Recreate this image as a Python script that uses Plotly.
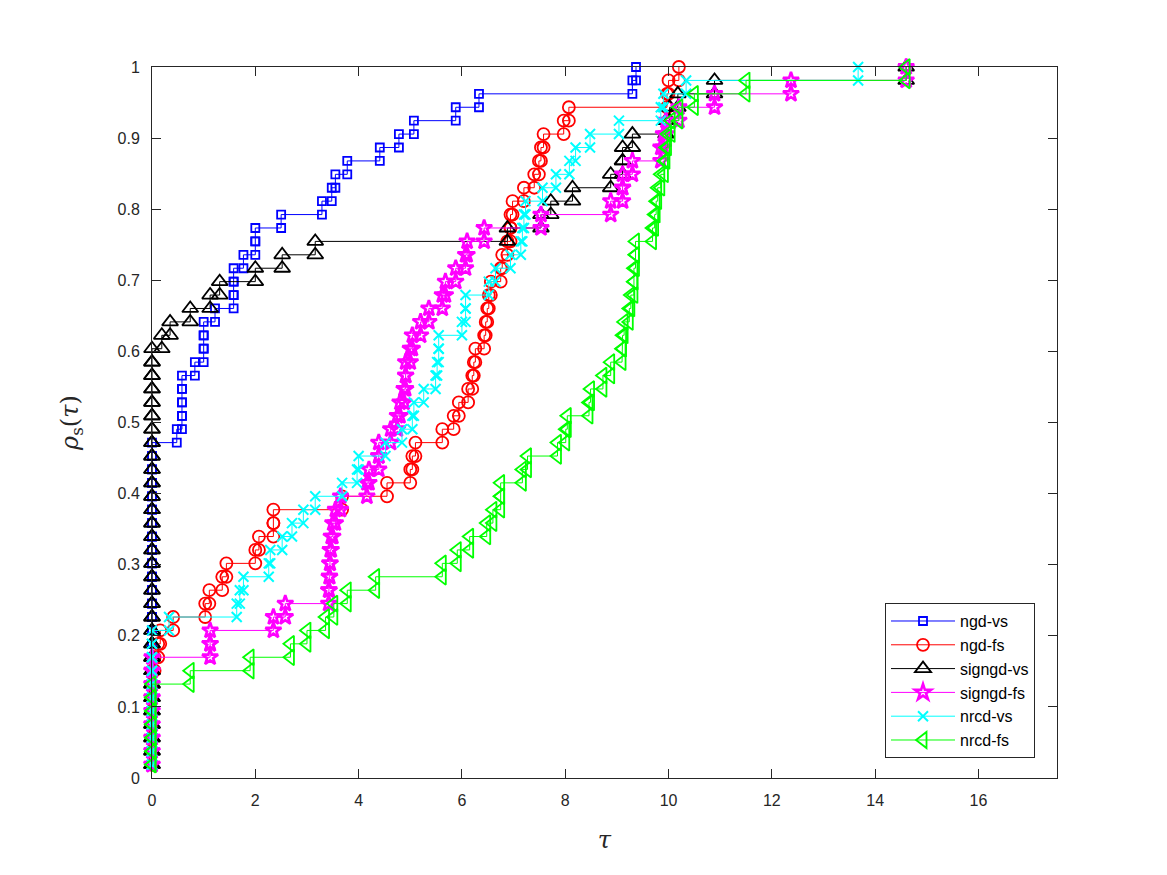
import numpy as np
import plotly.graph_objects as go

# Performance-profile data: sorted log2 performance ratios per solver (53 problems)
solvers = ["ngd-vs", "ngd-fs", "signgd-vs", "signgd-fs", "nrcd-vs", "nrcd-fs"]

tau_ngd_vs = [0, 0, 0, 0, 0, 0, 0, 0, 0, 0, 0, 0, 0, 0, 0, 0, 0, 0, 0, 0, 0, 0, 0, 0, 0,
              0.48, 0.58, 0.58, 0.58, 0.58, 0.83, 1.0, 1.0, 1.0, 1.22, 1.58, 1.58, 1.58, 1.77,
              2.0, 2.0, 2.50, 3.29, 3.48, 3.55, 3.78, 4.41, 4.78, 5.07, 5.88, 6.33, 9.30, 9.37]

tau_ngd_fs = [0, 0, 0, 0, 0, 0, 0, 0, 0.05, 0.12, 0.16, 0.41, 1.03, 1.11, 1.36, 1.44, 2.0,
              2.07, 2.35, 2.35, 3.68, 4.55, 5.0, 5.04, 5.1, 5.62, 5.84, 5.94, 6.12, 6.2, 6.23,
              6.26, 6.43, 6.46, 6.49, 6.52, 6.56, 6.75, 6.78, 6.88, 6.94, 6.94, 6.98, 7.2, 7.4,
              7.49, 7.53, 7.58, 7.97, 8.07, 9.97, 10.0, 10.2]

tau_signgd_vs = [0, 0, 0, 0, 0, 0, 0, 0, 0, 0, 0, 0, 0, 0, 0, 0, 0, 0, 0, 0, 0, 0, 0, 0, 0,
                 0, 0, 0, 0, 0, 0, 0, 0.19, 0.35, 0.74, 1.125, 1.31, 2.0, 2.52, 3.16, 6.88,
                 7.53, 7.72, 8.14, 8.88, 9.11, 9.11, 9.30, 9.95, 10.02, 10.18, 10.89, 14.6]

tau_signgd_fs = [0, 0, 0, 0, 0, 0, 0, 0, 0, 1.125, 1.125, 2.35, 2.58, 3.42, 3.43, 3.44, 3.45,
                 3.47, 3.5, 3.55, 3.65, 4.16, 4.2, 4.39, 4.39, 4.62, 4.75, 4.8, 4.88, 4.91, 4.91,
                 5.0, 5.04, 5.2, 5.36, 5.62, 5.68, 5.88, 6.07, 6.1, 6.43, 7.53, 8.88, 9.11, 9.11,
                 9.3, 9.85, 9.9, 9.95, 10.2, 10.89, 12.37, 14.6]

tau_nrcd_vs = [0, 0, 0, 0, 0, 0, 0, 0, 0, 0, 0, 0.33, 1.64, 1.70, 1.77, 2.26, 2.29, 2.52, 2.71,
               2.93, 3.16, 3.68, 3.97, 4.0, 4.52, 4.84, 5.04, 5.07, 5.26, 5.49, 5.52, 5.55, 5.55,
               6.0, 6.07, 6.07, 6.52, 6.65, 6.94, 7.14, 7.17, 7.2, 7.23, 7.56, 7.82, 8.08, 8.2,
               8.48, 9.04, 9.85, 9.9, 10.34, 13.67]

tau_nrcd_fs = [0, 0, 0, 0, 0, 0, 0, 0.74, 1.90, 2.68, 3.0, 3.36, 3.52, 3.78, 4.33, 5.62, 5.91,
               6.15, 6.48, 6.6, 6.75, 6.75, 7.17, 7.27, 7.85, 8.01, 8.04, 8.46, 8.49, 8.73, 8.88,
               9.1, 9.11, 9.14, 9.24, 9.27, 9.33, 9.33, 9.36, 9.36, 9.69, 9.73, 9.76, 9.79, 9.85,
               9.92, 9.95, 9.98, 10.05, 10.2, 10.5, 11.5, 14.6]

x_ticks = [0, 2, 4, 6, 8, 10, 12, 14, 16]
y_ticks = [0, 0.1, 0.2, 0.3, 0.4, 0.5, 0.6, 0.7, 0.8, 0.9, 1]
y_tick_labels = ["0", "0.1", "0.2", "0.3", "0.4", "0.5", "0.6", "0.7", "0.8", "0.9", "1"]

series = [tau_ngd_vs, tau_ngd_fs, tau_signgd_vs, tau_signgd_fs, tau_nrcd_vs, tau_nrcd_fs]
colors = ["#0000FF", "#FF0000", "#000000", "#FF00FF", "#00FFFF", "#00FF00"]
symbols = ["square-open", "circle-open", "triangle-up-open", "star-open", "x-thin-open", "triangle-left-open"]
sizes = [8, 12, 14, 12, 10, 14]
mlw = [1.8, 1.8, 1.8, 2.6, 2.0, 1.8]


def stairs(x, y):
    """MATLAB-style stairs vertices: (x1,y1),(x2,y1),(x2,y2),...,(xn,yn)."""
    xs, ys = [x[0]], [y[0]]
    for i in range(1, len(x)):
        xs += [x[i], x[i]]
        ys += [y[i - 1], y[i]]
    return xs, ys


fig = go.Figure()
for name, tau, col, sym, sz, lw in zip(solvers, series, colors, symbols, sizes, mlw):
    r = np.sort(np.array(tau, dtype=float))
    n = len(r)
    frac = np.arange(1, n + 1) / n
    xs, ys = stairs(list(r), list(frac))
    fig.add_trace(go.Scatter(
        x=xs, y=ys, mode="lines+markers", name=name,
        line=dict(color=col, width=1),
        marker=dict(symbol=sym, size=sz, color=col, line=dict(color=col, width=lw)),
        cliponaxis=False, legendgroup=name,
    ))

axis_common = dict(
    showline=True, linecolor="#262626", linewidth=1, mirror="ticks",
    ticks="inside", ticklen=9, tickwidth=1, tickcolor="#262626",
    showgrid=False, zeroline=False, ticklabelstandoff=8,
    tickfont=dict(family="Liberation Sans, Arial, sans-serif", size=16, color="#262626"),
)

fig.update_layout(
    width=1167, height=875,
    margin=dict(l=152, r=110, t=67, b=97),
    plot_bgcolor="white", paper_bgcolor="white",
    font=dict(family="Liberation Sans, Arial, sans-serif", size=16, color="#262626"),
    xaxis=dict(range=[0, 17.52], tickvals=x_ticks, ticktext=[str(v) for v in x_ticks],
               title=dict(text="<i>τ</i>", font=dict(size=24, family="DejaVu Serif, serif", color="#262626"), standoff=22),
               **axis_common),
    yaxis=dict(range=[0, 1], tickvals=y_ticks, ticktext=y_tick_labels,
               title=dict(text="<i>ρ</i><sub>s</sub>(<i>τ</i>)", font=dict(size=24, family="DejaVu Serif, serif", color="#262626"), standoff=32),
               **axis_common),
    legend=dict(x=0.9757, y=0.028, xanchor="right", yanchor="bottom",
                bgcolor="white", bordercolor="#262626", borderwidth=1,
                font=dict(size=16, color="#000000"), itemwidth=64, tracegroupgap=0),
    showlegend=True,
)

fig.write_html("out.html")
